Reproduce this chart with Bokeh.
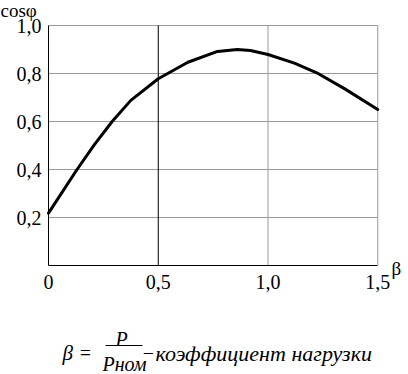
from bokeh.plotting import figure
from bokeh.models import Range1d, FixedTicker, CustomJSTickFormatter, Label
from bokeh.embed import file_html
from bokeh.resources import INLINE

# ---- data ----
beta = [0.0, 0.13, 0.21, 0.29, 0.375, 0.50, 0.635, 0.77, 0.86, 0.92, 1.00, 1.12, 1.23, 1.35, 1.50]
cosphi = [0.218, 0.400, 0.505, 0.600, 0.688, 0.778, 0.847, 0.892, 0.900, 0.896, 0.879, 0.843, 0.799, 0.736, 0.650]
x_ticks = [0.0, 0.5, 1.0, 1.5]
y_ticks = [0.2, 0.4, 0.6, 0.8, 1.0]
x_grid_gray = [1.0, 1.5]
x_grid_black = [0.5]
y_title = "cosφ"
x_title = "β"

SERIF = "Liberation Serif"
GRID = "#999999"

W, H = 408, 374
# pixel placement of the plot area on the canvas
X0PX, XPX_PER = 48.0, 219.5      # x=0 at 48 px, 219.5 px per unit
Y0PX, YPX_PER = 265.0, 240.0     # y=0 at 265 px, 240 px per unit


def dx(px):
    return (px - X0PX) / XPX_PER


def dy(py):
    return (Y0PX - py) / YPX_PER


p = figure(width=W, height=H, min_border=0,
           x_range=Range1d(dx(0), dx(W)), y_range=Range1d(dy(H), dy(0)),
           output_backend="svg", toolbar_location=None)
p.outline_line_color = None
p.background_fill_color = "white"
p.border_fill_color = "white"
p.grid.visible = False

xmin, xmax = x_ticks[0], x_ticks[-1]
ymin, ymax = 0.0, y_ticks[-1]

# grid lines
p.segment(x0=[xmin] * len(y_ticks), x1=[xmax] * len(y_ticks), y0=y_ticks, y1=y_ticks,
          line_color=GRID, line_width=1)
p.segment(x0=x_grid_gray, x1=x_grid_gray, y0=[ymin] * len(x_grid_gray), y1=[ymax] * len(x_grid_gray),
          line_color=GRID, line_width=1)
p.segment(x0=x_grid_black, x1=x_grid_black, y0=[ymin], y1=[ymax], line_color="black", line_width=1)

# curve
p.line(beta, cosphi, line_color="black", line_width=3, line_join="round", line_cap="round")

# axes drawn inside the canvas at x=0 / y=0
fmt = CustomJSTickFormatter(code='return tick == 0 ? "0" : tick.toFixed(1).replace(".", ",");')
for ax, tk, bnd in ((p.xaxis[0], x_ticks, (xmin, xmax)), (p.yaxis[0], y_ticks, (ymin, ymax))):
    ax.fixed_location = 0
    ax.bounds = bnd
    ax.ticker = FixedTicker(ticks=tk)
    ax.formatter = fmt
    ax.axis_line_color = "black"
    ax.axis_line_width = 1
    ax.major_tick_line_color = None
    ax.minor_tick_line_color = None
    ax.major_tick_out = 0
    ax.major_tick_in = 0
    ax.major_label_text_font = SERIF
    ax.major_label_text_font_size = "20px"
    ax.major_label_text_color = "black"
p.yaxis.major_label_standoff = 7
p.xaxis.major_label_standoff = 9


def lab(xp, yp, t, size="19px", style="normal", align="left", baseline="alphabetic"):
    p.add_layout(Label(x=dx(xp), y=dy(yp), text=t, text_font=SERIF, text_font_size=size,
                       text_font_style=style, text_baseline=baseline,
                       text_align=align, text_color="black"))


# axis titles
lab(0, 10, y_title, "19px")
lab(391, 268, x_title, "19px")

# formula
lab(62, 352, "β", "21px", "italic")
lab(85, 352, "=", "20px", "normal", "center")
lab(121, 338, "P", "20px", "italic", "center")
lab(124, 363, "Pном", "20px", "italic", "center")
p.segment(x0=[dx(105)], y0=[dy(345)], x1=[dx(142)], y1=[dy(345)], line_color="black", line_width=1)
lab(148, 352, "−", "20px", "normal", "center")
lab(155, 353, "коэффициент  нагрузки", "22px", "italic")

open("out.html", "w").write(file_html(p, INLINE))
